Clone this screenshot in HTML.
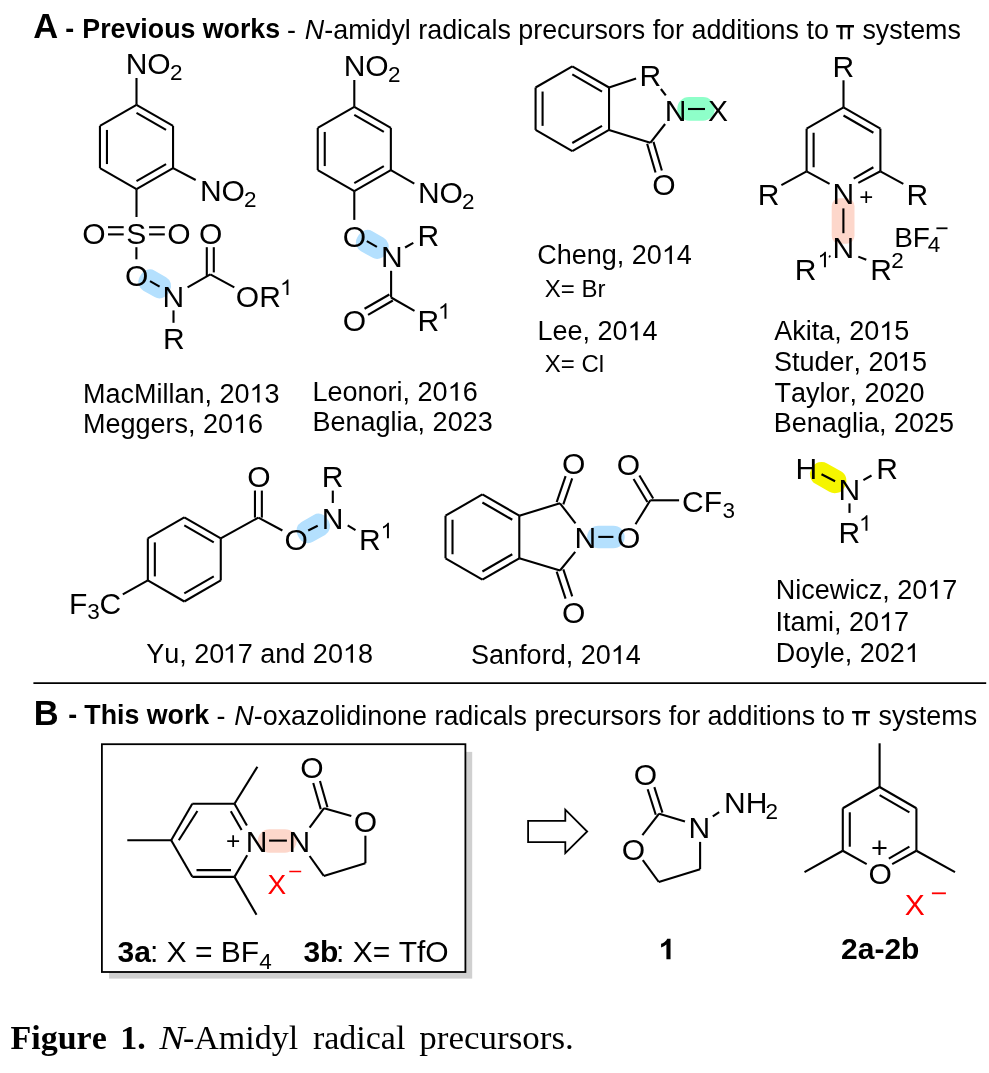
<!DOCTYPE html>
<html><head><meta charset="utf-8"><style>
html,body{margin:0;padding:0;background:#fff;}
body{width:989px;height:1073px;overflow:hidden;}
svg{display:block;font-family:"Liberation Sans", sans-serif;font-kerning:none;will-change:transform;}
</style></head><body>
<svg width="989" height="1073" viewBox="0 0 989 1073">
<rect width="989" height="1073" fill="#fff"/>
<rect x="109" y="751.9" width="363.2" height="226.7" fill="#d0d0d0"/>
<rect x="101.9" y="744.2" width="363.5" height="227.8" fill="#fff" stroke="#000" stroke-width="1.8"/>
<rect x="257.8" y="829.3" width="38.8" height="23.4" rx="11.7" fill="#fdd7cb" transform="rotate(0 277.2 841)"/>
<rect x="809.2" y="465.85" width="38" height="23.5" rx="11" fill="#f5f500" transform="rotate(29.7 828.2 477.6)"/>
<rect x="587.15" y="525.65" width="37.5" height="22.7" rx="11.3" fill="#b4e0fe" transform="rotate(0 605.9 537)"/>
<rect x="296.3" y="516.9" width="34" height="23" rx="10" fill="#b4e0fe" transform="rotate(-29.7 313.3 528.4)"/>
<rect x="820.25" y="209.6" width="45.7" height="22.8" rx="8" fill="#fdd7cb" transform="rotate(90 843.1 221)"/>
<rect x="677.25" y="97.05" width="37.5" height="23.7" rx="11.8" fill="#8effc9" transform="rotate(0 696 108.9)"/>
<rect x="355.8" y="232.9" width="33" height="23" rx="10" fill="#b4e0fe" transform="rotate(29.7 372.3 244.4)"/>
<rect x="138.2" y="272.4" width="33" height="23" rx="10" fill="#b4e0fe" transform="rotate(29.7 154.7 283.9)"/>
<text x="33.34" y="38.3" font-size="34.5" font-weight="bold">A</text>
<text x="65.33" y="38.3" font-size="26.75" font-weight="bold">-</text>
<text x="82.36" y="38.3" font-size="26.75" font-weight="bold">Previous works</text>
<text x="287.09" y="39.2" font-size="26.87">-</text>
<text x="304.69" y="39.2" font-size="26.87" font-style="italic">N</text>
<text x="324.28" y="39.2" font-size="26.87">-amidyl radicals precursors for additions to</text>
<path d="M836.2 25.1h17.8v2.5h-17.8z M840.2 27.1h2.4v12.2h-2.4z M847.7 27.1h2.4v12.2h-2.4z"/>
<text x="862.39" y="39.2" font-size="26.87">systems</text>
<line x1="136.5" y1="104.8" x2="173.05" y2="125.9" stroke="#000" stroke-width="2.1" stroke-linecap="butt"/>
<line x1="173.05" y1="125.9" x2="173.05" y2="168.1" stroke="#000" stroke-width="2.1" stroke-linecap="butt"/>
<line x1="173.05" y1="168.1" x2="136.5" y2="189.2" stroke="#000" stroke-width="2.1" stroke-linecap="butt"/>
<line x1="136.5" y1="189.2" x2="99.95" y2="168.1" stroke="#000" stroke-width="2.1" stroke-linecap="butt"/>
<line x1="99.95" y1="168.1" x2="99.95" y2="125.9" stroke="#000" stroke-width="2.1" stroke-linecap="butt"/>
<line x1="99.95" y1="125.9" x2="136.5" y2="104.8" stroke="#000" stroke-width="2.1" stroke-linecap="butt"/>
<line x1="136.5" y1="112.88" x2="166.05" y2="129.94" stroke="#000" stroke-width="2.1" stroke-linecap="butt"/>
<line x1="166.05" y1="164.06" x2="136.5" y2="181.12" stroke="#000" stroke-width="2.1" stroke-linecap="butt"/>
<line x1="106.95" y1="164.06" x2="106.95" y2="129.94" stroke="#000" stroke-width="2.1" stroke-linecap="butt"/>
<line x1="136.5" y1="104.8" x2="136.5" y2="78" stroke="#000" stroke-width="2.1" stroke-linecap="butt"/>
<text x="125.7" y="74" font-size="30">NO</text>
<text x="169.97" y="80" font-size="22.5">2</text>
<line x1="173.05" y1="168.1" x2="195.7" y2="180" stroke="#000" stroke-width="2.1" stroke-linecap="butt"/>
<text x="199.9" y="200.8" font-size="30">NO</text>
<text x="243.88" y="206.8" font-size="22.5">2</text>
<line x1="136.5" y1="189.2" x2="136.5" y2="217" stroke="#000" stroke-width="2.1" stroke-linecap="butt"/>
<text x="82.35" y="243.6" font-size="30">O</text>
<text x="126.25" y="243.6" font-size="30">S</text>
<text x="167.35" y="243.6" font-size="30">O</text>
<line x1="108" y1="227.2" x2="123.7" y2="227.2" stroke="#000" stroke-width="2.1" stroke-linecap="butt"/>
<line x1="108" y1="234.4" x2="123.7" y2="234.4" stroke="#000" stroke-width="2.1" stroke-linecap="butt"/>
<line x1="149.1" y1="227.2" x2="164.8" y2="227.2" stroke="#000" stroke-width="2.1" stroke-linecap="butt"/>
<line x1="149.1" y1="234.4" x2="164.8" y2="234.4" stroke="#000" stroke-width="2.1" stroke-linecap="butt"/>
<line x1="136.4" y1="247.2" x2="136.4" y2="259.3" stroke="#000" stroke-width="2.1" stroke-linecap="butt"/>
<text x="124.95" y="285.8" font-size="30">O</text>
<line x1="150" y1="281.2" x2="159.6" y2="286.6" stroke="#000" stroke-width="2.1" stroke-linecap="butt"/>
<text x="162.4" y="306.5" font-size="30">N</text>
<line x1="173.5" y1="310.4" x2="173.5" y2="322.8" stroke="#000" stroke-width="2.1" stroke-linecap="butt"/>
<text x="163" y="349" font-size="30">R</text>
<line x1="187.6" y1="287.4" x2="210.3" y2="274.4" stroke="#000" stroke-width="2.1" stroke-linecap="butt"/>
<line x1="206.8" y1="247.2" x2="206.8" y2="276.4" stroke="#000" stroke-width="2.1" stroke-linecap="butt"/>
<line x1="213.8" y1="247.2" x2="213.8" y2="272.4" stroke="#000" stroke-width="2.1" stroke-linecap="butt"/>
<text x="198.95" y="243.6" font-size="30">O</text>
<line x1="210.3" y1="274.4" x2="234.3" y2="287.4" stroke="#000" stroke-width="2.1" stroke-linecap="butt"/>
<text x="235.85" y="306.5" font-size="30">OR</text>
<path transform="translate(280.05 295) scale(0.01099 -0.01054)" d="M763 0L583 0L583 1147Q518 1085 412.5 1023Q307 961 223 930L223 1104Q374 1175 487 1276Q600 1377 647 1472L763 1472Z" fill="#000"/>
<text x="82.9" y="402.5" font-size="27">MacMillan, 20</text>
<path transform="translate(249.47 402.5) scale(0.01318 -0.01265)" d="M763 0L583 0L583 1147Q518 1085 412.5 1023Q307 961 223 930L223 1104Q374 1175 487 1276Q600 1377 647 1472L763 1472Z" fill="#000"/>
<text x="264.48" y="402.5" font-size="27">3</text>
<text x="82.9" y="433" font-size="27">Meggers, 20</text>
<path transform="translate(232.99 433) scale(0.01318 -0.01265)" d="M763 0L583 0L583 1147Q518 1085 412.5 1023Q307 961 223 930L223 1104Q374 1175 487 1276Q600 1377 647 1472L763 1472Z" fill="#000"/>
<text x="248" y="433" font-size="27">6</text>
<line x1="354.3" y1="106.8" x2="390.85" y2="127.9" stroke="#000" stroke-width="2.1" stroke-linecap="butt"/>
<line x1="390.85" y1="127.9" x2="390.85" y2="170.1" stroke="#000" stroke-width="2.1" stroke-linecap="butt"/>
<line x1="390.85" y1="170.1" x2="354.3" y2="191.2" stroke="#000" stroke-width="2.1" stroke-linecap="butt"/>
<line x1="354.3" y1="191.2" x2="317.75" y2="170.1" stroke="#000" stroke-width="2.1" stroke-linecap="butt"/>
<line x1="317.75" y1="170.1" x2="317.75" y2="127.9" stroke="#000" stroke-width="2.1" stroke-linecap="butt"/>
<line x1="317.75" y1="127.9" x2="354.3" y2="106.8" stroke="#000" stroke-width="2.1" stroke-linecap="butt"/>
<line x1="354.3" y1="114.88" x2="383.85" y2="131.94" stroke="#000" stroke-width="2.1" stroke-linecap="butt"/>
<line x1="383.85" y1="166.06" x2="354.3" y2="183.12" stroke="#000" stroke-width="2.1" stroke-linecap="butt"/>
<line x1="324.75" y1="166.06" x2="324.75" y2="131.94" stroke="#000" stroke-width="2.1" stroke-linecap="butt"/>
<line x1="354.3" y1="106.8" x2="354.3" y2="80" stroke="#000" stroke-width="2.1" stroke-linecap="butt"/>
<text x="343.7" y="76.4" font-size="30">NO</text>
<text x="387.88" y="82.4" font-size="22.5">2</text>
<line x1="390.85" y1="170.1" x2="414.3" y2="183.6" stroke="#000" stroke-width="2.1" stroke-linecap="butt"/>
<text x="417.9" y="202.8" font-size="30">NO</text>
<text x="462.07" y="208.8" font-size="22.5">2</text>
<line x1="354.3" y1="191.2" x2="354.3" y2="219.9" stroke="#000" stroke-width="2.1" stroke-linecap="butt"/>
<text x="342.75" y="246.5" font-size="30">O</text>
<line x1="366.8" y1="241.1" x2="376.9" y2="246.8" stroke="#000" stroke-width="2.1" stroke-linecap="butt"/>
<text x="380.9" y="266.9" font-size="30">N</text>
<line x1="405.1" y1="247.5" x2="413.3" y2="242.9" stroke="#000" stroke-width="2.1" stroke-linecap="butt"/>
<text x="417.5" y="246.3" font-size="30">R</text>
<line x1="391.1" y1="270.8" x2="391.1" y2="297.5" stroke="#000" stroke-width="2.1" stroke-linecap="butt"/>
<line x1="389.35" y1="294.47" x2="364.55" y2="308.77" stroke="#000" stroke-width="2.1" stroke-linecap="butt"/>
<line x1="392.85" y1="300.53" x2="368.05" y2="314.83" stroke="#000" stroke-width="2.1" stroke-linecap="butt"/>
<line x1="391.1" y1="297.5" x2="414.5" y2="310.9" stroke="#000" stroke-width="2.1" stroke-linecap="butt"/>
<text x="342.75" y="330.6" font-size="30">O</text>
<text x="417.5" y="330.9" font-size="30">R</text>
<path transform="translate(438.05 318.7) scale(0.01099 -0.01054)" d="M763 0L583 0L583 1147Q518 1085 412.5 1023Q307 961 223 930L223 1104Q374 1175 487 1276Q600 1377 647 1472L763 1472Z" fill="#000"/>
<text x="312.54" y="400.8" font-size="27">Leonori, 20</text>
<path transform="translate(447.65 400.8) scale(0.01318 -0.01265)" d="M763 0L583 0L583 1147Q518 1085 412.5 1023Q307 961 223 930L223 1104Q374 1175 487 1276Q600 1377 647 1472L763 1472Z" fill="#000"/>
<text x="462.67" y="400.8" font-size="27">6</text>
<text x="312.54" y="430.8" font-size="27">Benaglia, 2023</text>
<line x1="572.3" y1="66.3" x2="609.02" y2="87.5" stroke="#000" stroke-width="2.1" stroke-linecap="butt"/>
<line x1="609.02" y1="87.5" x2="609.02" y2="129.9" stroke="#000" stroke-width="2.1" stroke-linecap="butt"/>
<line x1="609.02" y1="129.9" x2="572.3" y2="151.1" stroke="#000" stroke-width="2.1" stroke-linecap="butt"/>
<line x1="572.3" y1="151.1" x2="535.58" y2="129.9" stroke="#000" stroke-width="2.1" stroke-linecap="butt"/>
<line x1="535.58" y1="129.9" x2="535.58" y2="87.5" stroke="#000" stroke-width="2.1" stroke-linecap="butt"/>
<line x1="535.58" y1="87.5" x2="572.3" y2="66.3" stroke="#000" stroke-width="2.1" stroke-linecap="butt"/>
<line x1="572.3" y1="74.38" x2="602.02" y2="91.54" stroke="#000" stroke-width="2.1" stroke-linecap="butt"/>
<line x1="602.02" y1="125.86" x2="572.3" y2="143.02" stroke="#000" stroke-width="2.1" stroke-linecap="butt"/>
<line x1="542.58" y1="125.86" x2="542.58" y2="91.54" stroke="#000" stroke-width="2.1" stroke-linecap="butt"/>
<line x1="609.02" y1="87.5" x2="636.1" y2="78.4" stroke="#000" stroke-width="2.1" stroke-linecap="butt"/>
<text x="639.4" y="86.2" font-size="30">R</text>
<line x1="660.9" y1="89" x2="665.8" y2="95.4" stroke="#000" stroke-width="2.1" stroke-linecap="butt"/>
<text x="664.7" y="120.8" font-size="30">N</text>
<line x1="688" y1="109" x2="705" y2="109" stroke="#000" stroke-width="2.1" stroke-linecap="butt"/>
<text x="708.05" y="120.8" font-size="30">X</text>
<line x1="665.1" y1="124" x2="650.3" y2="142.8" stroke="#000" stroke-width="2.1" stroke-linecap="butt"/>
<line x1="609.02" y1="129.9" x2="650.3" y2="142.8" stroke="#000" stroke-width="2.1" stroke-linecap="butt"/>
<line x1="647.13" y1="143.73" x2="655.53" y2="172.43" stroke="#000" stroke-width="2.1" stroke-linecap="butt"/>
<line x1="653.47" y1="141.87" x2="661.87" y2="170.57" stroke="#000" stroke-width="2.1" stroke-linecap="butt"/>
<text x="652.15" y="195" font-size="30">O</text>
<text x="537.25" y="264" font-size="27">Cheng, 20</text>
<path transform="translate(661.85 264) scale(0.01318 -0.01265)" d="M763 0L583 0L583 1147Q518 1085 412.5 1023Q307 961 223 930L223 1104Q374 1175 487 1276Q600 1377 647 1472L763 1472Z" fill="#000"/>
<text x="676.87" y="264" font-size="27">4</text>
<text x="544.7" y="296.7" font-size="24">X= Br</text>
<text x="537.44" y="340.2" font-size="27">Lee, 20</text>
<path transform="translate(627.53 340.2) scale(0.01318 -0.01265)" d="M763 0L583 0L583 1147Q518 1085 412.5 1023Q307 961 223 930L223 1104Q374 1175 487 1276Q600 1377 647 1472L763 1472Z" fill="#000"/>
<text x="642.54" y="340.2" font-size="27">4</text>
<text x="544.7" y="371.5" font-size="24">X= Cl</text>
<line x1="843.5" y1="107.4" x2="880.39" y2="128.7" stroke="#000" stroke-width="2.1" stroke-linecap="butt"/>
<line x1="880.39" y1="128.7" x2="880.39" y2="171.3" stroke="#000" stroke-width="2.1" stroke-linecap="butt"/>
<line x1="806.61" y1="171.3" x2="806.61" y2="128.7" stroke="#000" stroke-width="2.1" stroke-linecap="butt"/>
<line x1="806.61" y1="128.7" x2="843.5" y2="107.4" stroke="#000" stroke-width="2.1" stroke-linecap="butt"/>
<line x1="843.5" y1="115.48" x2="873.39" y2="132.74" stroke="#000" stroke-width="2.1" stroke-linecap="butt"/>
<line x1="873.39" y1="167.26" x2="853.66" y2="178.65" stroke="#000" stroke-width="2.1" stroke-linecap="butt"/>
<line x1="813.61" y1="167.26" x2="813.61" y2="132.74" stroke="#000" stroke-width="2.1" stroke-linecap="butt"/>
<line x1="880.39" y1="171.3" x2="858.3" y2="182.9" stroke="#000" stroke-width="2.1" stroke-linecap="butt"/>
<line x1="806.61" y1="171.3" x2="829.6" y2="183.8" stroke="#000" stroke-width="2.1" stroke-linecap="butt"/>
<line x1="843.5" y1="107.4" x2="843.5" y2="80.3" stroke="#000" stroke-width="2.1" stroke-linecap="butt"/>
<text x="832.4" y="76.9" font-size="30">R</text>
<line x1="806.61" y1="171.3" x2="781.4" y2="185.1" stroke="#000" stroke-width="2.1" stroke-linecap="butt"/>
<text x="757.8" y="204.6" font-size="30">R</text>
<line x1="880.39" y1="171.3" x2="903.3" y2="183.8" stroke="#000" stroke-width="2.1" stroke-linecap="butt"/>
<text x="906.4" y="204.6" font-size="30">R</text>
<text x="832.5" y="204.3" font-size="30">N</text>
<text x="859.2" y="204.6" font-size="24">+</text>
<line x1="843.4" y1="208.4" x2="843.4" y2="233.2" stroke="#000" stroke-width="2.1" stroke-linecap="butt"/>
<text x="832.5" y="258.1" font-size="30">N</text>
<line x1="829" y1="256" x2="830.4" y2="256.9" stroke="#000" stroke-width="2.1" stroke-linecap="butt"/>
<text x="794.7" y="280" font-size="30">R</text>
<path transform="translate(817.55 267.2) scale(0.01099 -0.01054)" d="M763 0L583 0L583 1147Q518 1085 412.5 1023Q307 961 223 930L223 1104Q374 1175 487 1276Q600 1377 647 1472L763 1472Z" fill="#000"/>
<line x1="858.3" y1="256.6" x2="866.3" y2="259.8" stroke="#000" stroke-width="2.1" stroke-linecap="butt"/>
<text x="870.3" y="280" font-size="30">R</text>
<text x="891.27" y="268.3" font-size="22.5">2</text>
<text x="894.16" y="246.9" font-size="28">BF</text>
<text x="927.85" y="251.7" font-size="22.5">4</text>
<line x1="936.4" y1="228.3" x2="947.5" y2="228.3" stroke="#000" stroke-width="1.8" stroke-linecap="butt"/>
<text x="774.2" y="340" font-size="27">Akita, 20</text>
<path transform="translate(879.26 340) scale(0.01318 -0.01265)" d="M763 0L583 0L583 1147Q518 1085 412.5 1023Q307 961 223 930L223 1104Q374 1175 487 1276Q600 1377 647 1472L763 1472Z" fill="#000"/>
<text x="894.28" y="340" font-size="27">5</text>
<text x="773.88" y="370.7" font-size="27">Studer, 20</text>
<path transform="translate(896.98 370.7) scale(0.01318 -0.01265)" d="M763 0L583 0L583 1147Q518 1085 412.5 1023Q307 961 223 930L223 1104Q374 1175 487 1276Q600 1377 647 1472L763 1472Z" fill="#000"/>
<text x="912" y="370.7" font-size="27">5</text>
<text x="774.56" y="401.7" font-size="27">Taylor, 2020</text>
<text x="773.84" y="431.6" font-size="27">Benaglia, 2025</text>
<line x1="184.3" y1="517.3" x2="220.76" y2="538.35" stroke="#000" stroke-width="2.1" stroke-linecap="butt"/>
<line x1="220.76" y1="538.35" x2="220.76" y2="580.45" stroke="#000" stroke-width="2.1" stroke-linecap="butt"/>
<line x1="220.76" y1="580.45" x2="184.3" y2="601.5" stroke="#000" stroke-width="2.1" stroke-linecap="butt"/>
<line x1="184.3" y1="601.5" x2="147.84" y2="580.45" stroke="#000" stroke-width="2.1" stroke-linecap="butt"/>
<line x1="147.84" y1="580.45" x2="147.84" y2="538.35" stroke="#000" stroke-width="2.1" stroke-linecap="butt"/>
<line x1="147.84" y1="538.35" x2="184.3" y2="517.3" stroke="#000" stroke-width="2.1" stroke-linecap="butt"/>
<line x1="184.3" y1="525.38" x2="213.76" y2="542.39" stroke="#000" stroke-width="2.1" stroke-linecap="butt"/>
<line x1="213.76" y1="576.41" x2="184.3" y2="593.42" stroke="#000" stroke-width="2.1" stroke-linecap="butt"/>
<line x1="154.84" y1="576.41" x2="154.84" y2="542.39" stroke="#000" stroke-width="2.1" stroke-linecap="butt"/>
<line x1="147.84" y1="580.45" x2="122.8" y2="594.3" stroke="#000" stroke-width="2.1" stroke-linecap="butt"/>
<text x="68.9" y="613.8" font-size="30">F</text>
<text x="87.3" y="619.2" font-size="22.5">3</text>
<text x="99.5" y="613.8" font-size="30">C</text>
<line x1="220.76" y1="538.35" x2="258.4" y2="517.6" stroke="#000" stroke-width="2.1" stroke-linecap="butt"/>
<line x1="261.85" y1="517.6" x2="261.85" y2="490.6" stroke="#000" stroke-width="2.1" stroke-linecap="butt"/>
<line x1="254.95" y1="517.6" x2="254.95" y2="490.6" stroke="#000" stroke-width="2.1" stroke-linecap="butt"/>
<text x="247.25" y="486.7" font-size="30">O</text>
<line x1="258.4" y1="517.6" x2="282.4" y2="530.5" stroke="#000" stroke-width="2.1" stroke-linecap="butt"/>
<text x="284.55" y="549.7" font-size="30">O</text>
<line x1="308.2" y1="530.5" x2="317.7" y2="525.7" stroke="#000" stroke-width="2.1" stroke-linecap="butt"/>
<text x="321.8" y="528.8" font-size="30">N</text>
<line x1="332.8" y1="490.6" x2="332.8" y2="503" stroke="#000" stroke-width="2.1" stroke-linecap="butt"/>
<text x="321.8" y="486.6" font-size="30">R</text>
<line x1="347.7" y1="525.3" x2="355.5" y2="530.1" stroke="#000" stroke-width="2.1" stroke-linecap="butt"/>
<text x="359.1" y="550" font-size="30">R</text>
<path transform="translate(380.55 538.2) scale(0.01099 -0.01054)" d="M763 0L583 0L583 1147Q518 1085 412.5 1023Q307 961 223 930L223 1104Q374 1175 487 1276Q600 1377 647 1472L763 1472Z" fill="#000"/>
<text x="146.22" y="662.8" font-size="27">Yu, 20</text>
<path transform="translate(222.8 662.8) scale(0.01318 -0.01265)" d="M763 0L583 0L583 1147Q518 1085 412.5 1023Q307 961 223 930L223 1104Q374 1175 487 1276Q600 1377 647 1472L763 1472Z" fill="#000"/>
<text x="237.81" y="662.8" font-size="27">7 and 20</text>
<path transform="translate(342.92 662.8) scale(0.01318 -0.01265)" d="M763 0L583 0L583 1147Q518 1085 412.5 1023Q307 961 223 930L223 1104Q374 1175 487 1276Q600 1377 647 1472L763 1472Z" fill="#000"/>
<text x="357.93" y="662.8" font-size="27">8</text>
<line x1="482.4" y1="494.4" x2="519.29" y2="515.7" stroke="#000" stroke-width="2.1" stroke-linecap="butt"/>
<line x1="519.29" y1="515.7" x2="519.29" y2="558.3" stroke="#000" stroke-width="2.1" stroke-linecap="butt"/>
<line x1="519.29" y1="558.3" x2="482.4" y2="579.6" stroke="#000" stroke-width="2.1" stroke-linecap="butt"/>
<line x1="482.4" y1="579.6" x2="445.51" y2="558.3" stroke="#000" stroke-width="2.1" stroke-linecap="butt"/>
<line x1="445.51" y1="558.3" x2="445.51" y2="515.7" stroke="#000" stroke-width="2.1" stroke-linecap="butt"/>
<line x1="445.51" y1="515.7" x2="482.4" y2="494.4" stroke="#000" stroke-width="2.1" stroke-linecap="butt"/>
<line x1="482.4" y1="502.48" x2="512.29" y2="519.74" stroke="#000" stroke-width="2.1" stroke-linecap="butt"/>
<line x1="512.29" y1="554.26" x2="482.4" y2="571.52" stroke="#000" stroke-width="2.1" stroke-linecap="butt"/>
<line x1="452.51" y1="554.26" x2="452.51" y2="519.74" stroke="#000" stroke-width="2.1" stroke-linecap="butt"/>
<line x1="519.29" y1="515.7" x2="560" y2="503.3" stroke="#000" stroke-width="2.1" stroke-linecap="butt"/>
<line x1="519.29" y1="558.3" x2="560" y2="570.5" stroke="#000" stroke-width="2.1" stroke-linecap="butt"/>
<line x1="560" y1="503.3" x2="575.5" y2="523.4" stroke="#000" stroke-width="2.1" stroke-linecap="butt"/>
<line x1="560" y1="570.5" x2="575.2" y2="551.9" stroke="#000" stroke-width="2.1" stroke-linecap="butt"/>
<line x1="563.31" y1="504.43" x2="572.21" y2="478.43" stroke="#000" stroke-width="2.1" stroke-linecap="butt"/>
<line x1="556.69" y1="502.17" x2="565.59" y2="476.17" stroke="#000" stroke-width="2.1" stroke-linecap="butt"/>
<text x="562.05" y="473.8" font-size="30">O</text>
<line x1="556.68" y1="571.6" x2="565.58" y2="598.6" stroke="#000" stroke-width="2.1" stroke-linecap="butt"/>
<line x1="563.32" y1="569.4" x2="572.22" y2="596.4" stroke="#000" stroke-width="2.1" stroke-linecap="butt"/>
<text x="562.05" y="623" font-size="30">O</text>
<text x="574.5" y="548.4" font-size="30">N</text>
<line x1="598.3" y1="536.9" x2="613.4" y2="536.9" stroke="#000" stroke-width="2.1" stroke-linecap="butt"/>
<text x="616.95" y="548.4" font-size="30">O</text>
<line x1="635.5" y1="524.3" x2="650.3" y2="500.3" stroke="#000" stroke-width="2.1" stroke-linecap="butt"/>
<line x1="653.22" y1="498.55" x2="639.42" y2="475.55" stroke="#000" stroke-width="2.1" stroke-linecap="butt"/>
<line x1="647.38" y1="502.05" x2="633.58" y2="479.05" stroke="#000" stroke-width="2.1" stroke-linecap="butt"/>
<text x="616.85" y="475.3" font-size="30">O</text>
<line x1="650.3" y1="500.3" x2="679.1" y2="500.3" stroke="#000" stroke-width="2.1" stroke-linecap="butt"/>
<text x="682.1" y="512.2" font-size="30">CF</text>
<text x="722.4" y="517.7" font-size="22.5">3</text>
<text x="471.09" y="663.9" font-size="27">Sanford, 20</text>
<path transform="translate(610.69 663.9) scale(0.01318 -0.01265)" d="M763 0L583 0L583 1147Q518 1085 412.5 1023Q307 961 223 930L223 1104Q374 1175 487 1276Q600 1377 647 1472L763 1472Z" fill="#000"/>
<text x="625.71" y="663.9" font-size="27">4</text>
<text x="795.5" y="479.1" font-size="30">H</text>
<line x1="821.5" y1="474.3" x2="835.1" y2="481.3" stroke="#000" stroke-width="2.1" stroke-linecap="butt"/>
<text x="838.6" y="499.7" font-size="30">N</text>
<line x1="863.4" y1="480.1" x2="871.5" y2="475.5" stroke="#000" stroke-width="2.1" stroke-linecap="butt"/>
<text x="876.2" y="479.1" font-size="30">R</text>
<line x1="849.5" y1="503.4" x2="849.5" y2="512.9" stroke="#000" stroke-width="2.1" stroke-linecap="butt"/>
<text x="838.6" y="542.8" font-size="30">R</text>
<path transform="translate(859.05 530.7) scale(0.01099 -0.01054)" d="M763 0L583 0L583 1147Q518 1085 412.5 1023Q307 961 223 930L223 1104Q374 1175 487 1276Q600 1377 647 1472L763 1472Z" fill="#000"/>
<text x="775.74" y="598.7" font-size="27">Nicewicz, 20</text>
<path transform="translate(927.29 598.7) scale(0.01318 -0.01265)" d="M763 0L583 0L583 1147Q518 1085 412.5 1023Q307 961 223 930L223 1104Q374 1175 487 1276Q600 1377 647 1472L763 1472Z" fill="#000"/>
<text x="942.3" y="598.7" font-size="27">7</text>
<text x="775.47" y="630.9" font-size="27">Itami, 20</text>
<path transform="translate(879.01 630.9) scale(0.01318 -0.01265)" d="M763 0L583 0L583 1147Q518 1085 412.5 1023Q307 961 223 930L223 1104Q374 1175 487 1276Q600 1377 647 1472L763 1472Z" fill="#000"/>
<text x="894.03" y="630.9" font-size="27">7</text>
<text x="775.74" y="661.9" font-size="27">Doyle, 202</text>
<path transform="translate(904.82 661.9) scale(0.01318 -0.01265)" d="M763 0L583 0L583 1147Q518 1085 412.5 1023Q307 961 223 930L223 1104Q374 1175 487 1276Q600 1377 647 1472L763 1472Z" fill="#000"/>
<line x1="33.4" y1="683.2" x2="986.2" y2="683.2" stroke="#000" stroke-width="1.8" stroke-linecap="butt"/>
<text x="33.86" y="724.8" font-size="34.5" font-weight="bold">B</text>
<text x="68.33" y="724.3" font-size="26.75" font-weight="bold">-</text>
<text x="84.33" y="724.3" font-size="26.75" font-weight="bold">This work</text>
<text x="216.39" y="725.1" font-size="26.87">-</text>
<text x="234.19" y="725.1" font-size="26.87" font-style="italic">N</text>
<text x="253.78" y="725.1" font-size="26.87">-oxazolidinone radicals precursors for additions to</text>
<path d="M852.1 711.1h17.8v2.5h-17.8z M856.1 713.1h2.4v12.2h-2.4z M863.6 713.1h2.4v12.2h-2.4z"/>
<text x="878.59" y="725.1" font-size="26.87">systems</text>
<line x1="171.2" y1="840.3" x2="192.3" y2="803.75" stroke="#000" stroke-width="2.1" stroke-linecap="butt"/>
<line x1="192.3" y1="803.75" x2="234.5" y2="803.75" stroke="#000" stroke-width="2.1" stroke-linecap="butt"/>
<line x1="234.5" y1="803.75" x2="246.9" y2="825.5" stroke="#000" stroke-width="2.1" stroke-linecap="butt"/>
<line x1="234.5" y1="876.85" x2="247.2" y2="855.2" stroke="#000" stroke-width="2.1" stroke-linecap="butt"/>
<line x1="234.5" y1="876.85" x2="192.3" y2="876.85" stroke="#000" stroke-width="2.1" stroke-linecap="butt"/>
<line x1="192.3" y1="876.85" x2="171.2" y2="840.3" stroke="#000" stroke-width="2.1" stroke-linecap="butt"/>
<line x1="230.8" y1="811.2" x2="241.6" y2="830.1" stroke="#000" stroke-width="2.1" stroke-linecap="butt"/>
<line x1="197.4" y1="811" x2="178.8" y2="840.3" stroke="#000" stroke-width="2.1" stroke-linecap="butt"/>
<line x1="196.5" y1="870.1" x2="231" y2="870.1" stroke="#000" stroke-width="2.1" stroke-linecap="butt"/>
<line x1="234.5" y1="803.75" x2="257.4" y2="766.7" stroke="#000" stroke-width="2.1" stroke-linecap="butt"/>
<line x1="171.2" y1="840.3" x2="127.3" y2="840.3" stroke="#000" stroke-width="2.1" stroke-linecap="butt"/>
<line x1="234.5" y1="876.85" x2="256.5" y2="914.7" stroke="#000" stroke-width="2.1" stroke-linecap="butt"/>
<text x="245.7" y="852.2" font-size="30">N</text>
<text x="225.88" y="848.6" font-size="24.5">+</text>
<line x1="269.1" y1="840.6" x2="286.9" y2="840.6" stroke="#000" stroke-width="2.1" stroke-linecap="butt"/>
<text x="288.6" y="852.2" font-size="30">N</text>
<line x1="309.6" y1="827.7" x2="324.1" y2="808.2" stroke="#000" stroke-width="2.1" stroke-linecap="butt"/>
<line x1="327.46" y1="807.24" x2="319.96" y2="781.04" stroke="#000" stroke-width="2.1" stroke-linecap="butt"/>
<line x1="320.74" y1="809.16" x2="313.24" y2="782.96" stroke="#000" stroke-width="2.1" stroke-linecap="butt"/>
<text x="300.15" y="778" font-size="30">O</text>
<line x1="324.1" y1="808.2" x2="351.3" y2="816" stroke="#000" stroke-width="2.1" stroke-linecap="butt"/>
<text x="353.85" y="832.2" font-size="30">O</text>
<line x1="365.4" y1="835.7" x2="365.4" y2="863.2" stroke="#000" stroke-width="2.1" stroke-linecap="butt"/>
<line x1="365.4" y1="863.2" x2="323.8" y2="875.9" stroke="#000" stroke-width="2.1" stroke-linecap="butt"/>
<line x1="323.8" y1="875.9" x2="309.6" y2="856" stroke="#000" stroke-width="2.1" stroke-linecap="butt"/>
<text x="267.4" y="893.9" font-size="28" fill="#ff0000">X</text>
<line x1="289.3" y1="871.5" x2="301.2" y2="871.5" stroke="#ff0000" stroke-width="1.5" stroke-linecap="butt"/>
<text x="117.55" y="961.5" font-size="30" font-weight="bold">3a</text>
<text x="149.9" y="962" font-size="30">: X = BF</text>
<text x="259.35" y="968.5" font-size="22.5">4</text>
<text x="303.45" y="961.5" font-size="30" font-weight="bold">3b</text>
<text x="336.1" y="962" font-size="30">: X= TfO</text>
<path d="M528.1 820.9 H565.3 V809.6 L587.2 831.5 L565.3 853.2 V842.1 H528.1 Z" fill="none" stroke="#000" stroke-width="1.8" stroke-linejoin="miter"/>
<text x="633.75" y="784.6" font-size="30">O</text>
<line x1="662.44" y1="812.64" x2="654.34" y2="787.14" stroke="#000" stroke-width="2.1" stroke-linecap="butt"/>
<line x1="655.76" y1="814.76" x2="647.66" y2="789.26" stroke="#000" stroke-width="2.1" stroke-linecap="butt"/>
<line x1="659.1" y1="813.7" x2="685" y2="821.4" stroke="#000" stroke-width="2.1" stroke-linecap="butt"/>
<text x="688.6" y="838.3" font-size="30">N</text>
<line x1="712.8" y1="816.4" x2="719.2" y2="812.2" stroke="#000" stroke-width="2.1" stroke-linecap="butt"/>
<text x="724.1" y="812.8" font-size="30">NH</text>
<text x="765.38" y="818.8" font-size="22.5">2</text>
<line x1="659.1" y1="813.7" x2="642.4" y2="835.2" stroke="#000" stroke-width="2.1" stroke-linecap="butt"/>
<text x="621.75" y="859.7" font-size="30">O</text>
<line x1="642.8" y1="860.1" x2="658.8" y2="882" stroke="#000" stroke-width="2.1" stroke-linecap="butt"/>
<line x1="658.8" y1="882" x2="700.1" y2="869.2" stroke="#000" stroke-width="2.1" stroke-linecap="butt"/>
<line x1="700.1" y1="869.2" x2="700.1" y2="841.9" stroke="#000" stroke-width="2.1" stroke-linecap="butt"/>
<path transform="translate(657.99 959.3) scale(0.01465 -0.01406)" d="M856 0L575 0L575 1059Q421 915 212 846L212 1101Q322 1137 451 1237Q580 1338 628 1470L856 1470Z" fill="#000"/>
<line x1="879.6" y1="787" x2="916.41" y2="808.25" stroke="#000" stroke-width="2.1" stroke-linecap="butt"/>
<line x1="916.41" y1="808.25" x2="916.41" y2="850.75" stroke="#000" stroke-width="2.1" stroke-linecap="butt"/>
<line x1="842.79" y1="850.75" x2="842.79" y2="808.25" stroke="#000" stroke-width="2.1" stroke-linecap="butt"/>
<line x1="842.79" y1="808.25" x2="879.6" y2="787" stroke="#000" stroke-width="2.1" stroke-linecap="butt"/>
<line x1="879.6" y1="795.08" x2="909.41" y2="812.29" stroke="#000" stroke-width="2.1" stroke-linecap="butt"/>
<line x1="909.41" y1="846.71" x2="888.84" y2="858.58" stroke="#000" stroke-width="2.1" stroke-linecap="butt"/>
<line x1="849.79" y1="846.71" x2="849.79" y2="812.29" stroke="#000" stroke-width="2.1" stroke-linecap="butt"/>
<line x1="916.41" y1="850.75" x2="892.2" y2="864.2" stroke="#000" stroke-width="2.1" stroke-linecap="butt"/>
<line x1="842.79" y1="850.75" x2="866.7" y2="864.2" stroke="#000" stroke-width="2.1" stroke-linecap="butt"/>
<line x1="879.6" y1="787" x2="879.6" y2="743.3" stroke="#000" stroke-width="2.1" stroke-linecap="butt"/>
<line x1="842.79" y1="850.75" x2="804.5" y2="872.2" stroke="#000" stroke-width="2.1" stroke-linecap="butt"/>
<line x1="916.41" y1="850.75" x2="955" y2="872.2" stroke="#000" stroke-width="2.1" stroke-linecap="butt"/>
<text x="868.55" y="883.6" font-size="30">O</text>
<text x="871.05" y="857.5" font-size="29">+</text>
<text x="904.75" y="915.3" font-size="30" fill="#ff0000">X</text>
<line x1="931.9" y1="893.3" x2="945.9" y2="893.3" stroke="#ff0000" stroke-width="1.8" stroke-linecap="butt"/>
<text x="841.05" y="959" font-size="30" font-weight="bold">2a-2b</text>
<text x="10.49" y="1049.2" font-size="34" font-family='"Liberation Serif", serif' font-weight="bold">Figure</text>
<text x="120.28" y="1049.2" font-size="34" font-family='"Liberation Serif", serif' font-weight="bold">1.</text>
<text x="159.27" y="1049.2" font-size="34" font-family='"Liberation Serif", serif' font-style="italic" transform="matrix(1.1200 0 0 1.0000 -19.092 0.000)">N</text>
<text x="182.94" y="1049.2" font-size="34" font-family='"Liberation Serif", serif'>-Amidyl</text>
<text x="312.92" y="1049.2" font-size="34" font-family='"Liberation Serif", serif'>radical</text>
<text x="419.29" y="1049.2" font-size="34" font-family='"Liberation Serif", serif' transform="matrix(1.0300 0 0 1.0000 -12.594 0.000)">precursors.</text>
</svg>
</body></html>
